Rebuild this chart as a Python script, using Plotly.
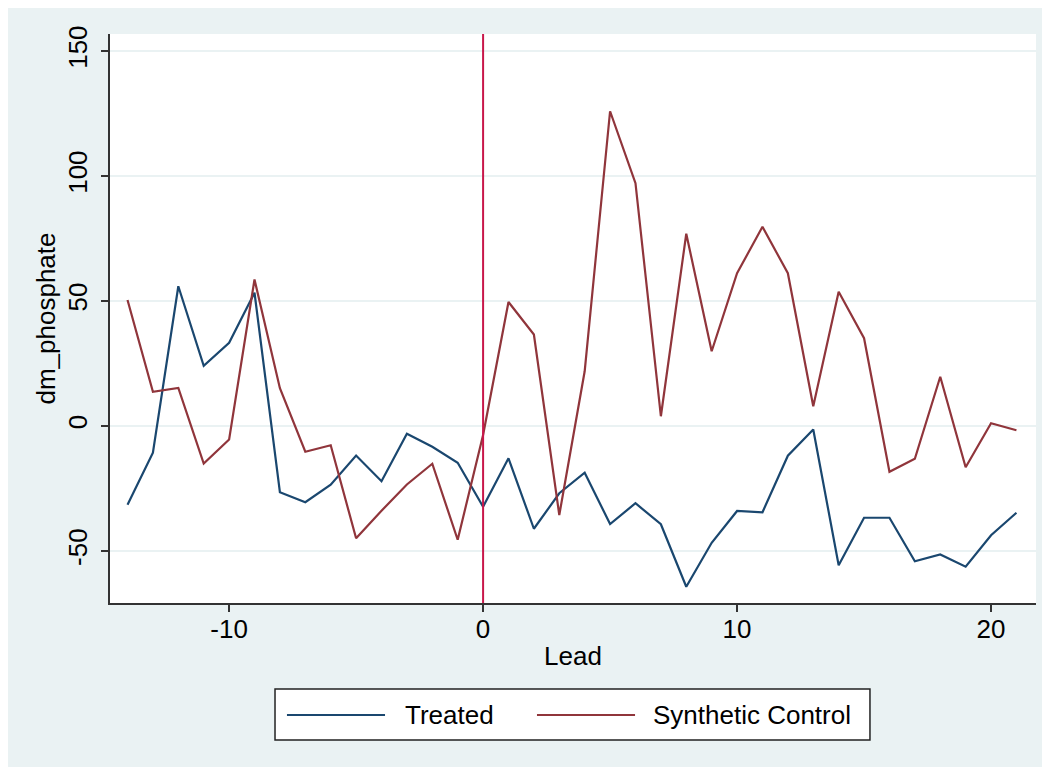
import plotly.graph_objects as go

# lead (event time) and the two series
lead = list(range(-14, 22))

treated = [-31.5, -10.7, 55.9, 24.1, 33.3, 53.3, -26.5, -30.5, -23.5, -11.8,
           -22.1, -3.1, -8.3, -14.7, -32.3, -12.9, -41.1, -26.9, -18.7, -39.2,
           -30.9, -39.3, -64.3, -46.7, -34.0, -34.5, -11.9, -1.4, -55.7, -36.7,
           -36.7, -54.1, -51.4, -56.3, -43.7, -34.7]

synthetic = [50.4, 13.7, 15.2, -15.0, -5.4, 58.6, 15.1, -10.3, -7.7, -44.9,
             -33.9, -23.4, -15.1, -45.5, -3.6, 49.6, 36.6, -35.6, 21.9, 125.9,
             97.1, 3.9, 76.9, 29.9, 61.1, 79.7, 61.1, 7.9, 53.7, 35.1,
             -18.3, -13.1, 19.7, -16.5, 1.1, -1.7]

x_ticks = [-10, 0, 10, 20]
x_tick_labels = ["-10", "0", "10", "20"]
y_ticks = [-50, 0, 50, 100, 150]
y_tick_labels = ["-50", "0", "50", "100", "150"]
series_names = ["Treated", "Synthetic Control"]
treat_lead = 0

BG = "#EAF2F3"
FONT = "Liberation Sans, Arial, sans-serif"
FS = 26
COLORS = ["#1A476F", "#90353B"]

fig = go.Figure()
for name, vals, col in zip(series_names, [treated, synthetic], COLORS):
    fig.add_trace(go.Scatter(x=lead, y=vals, mode="lines", name=name,
                             line=dict(color=col, width=2.2), showlegend=False))

# vertical line at treatment
fig.add_shape(type="line", xref="x", yref="paper", x0=treat_lead, x1=treat_lead,
              y0=0, y1=1, line=dict(color="#C8174A", width=2), layer="above")

# stata-like legend box under the plot (paper coords)
fig.add_shape(type="rect", xref="paper", yref="paper",
              x0=0.1782, x1=0.8207, y0=-0.2408, y1=-0.1511,
              fillcolor="white", line=dict(color="#222", width=1.5))
leg_y = -0.1968
for (lx0, lx1, tx), name, col in zip([(0.1911, 0.2970, 0.3164), (0.4611, 0.5670, 0.5842)],
                                     series_names, COLORS):
    fig.add_shape(type="line", xref="paper", yref="paper", x0=lx0, x1=lx1,
                  y0=leg_y, y1=leg_y, line=dict(color=col, width=2.2))
    fig.add_annotation(xref="paper", yref="paper", x=tx, y=leg_y, text=name,
                       showarrow=False, xanchor="left", yanchor="middle",
                       font=dict(size=FS, color="black"))

fig.update_layout(
    width=1050, height=767,
    margin=dict(l=102, r=22, t=26, b=172),
    paper_bgcolor=BG,
    plot_bgcolor="white",
    font=dict(family=FONT, size=FS, color="black"),
    showlegend=False,
)

fig.update_xaxes(
    range=[-14.69, 21.77], tickvals=x_ticks, ticktext=x_tick_labels,
    showgrid=False, zeroline=False,
    showline=True, linecolor="#333", linewidth=1.5,
    ticks="outside", ticklen=7, tickcolor="#333", tickwidth=1.5,
    ticklabelstandoff=-5,
    title=dict(text="Lead", standoff=4, font=dict(size=FS)), tickfont=dict(size=FS),
)
fig.update_yaxes(
    range=[-70.8, 156.8], tickvals=y_ticks, ticktext=y_tick_labels,
    showgrid=True, gridcolor=BG, gridwidth=1.5,
    zeroline=False, showline=True, linecolor="#333", linewidth=1.5,
    ticks="outside", ticklen=7, tickcolor="#333", tickwidth=1.5,
    tickangle=-90, ticklabelstandoff=4,
    title=dict(text="dm_phosphate", standoff=0, font=dict(size=FS)), tickfont=dict(size=FS),
)

fig.write_html("out.html")
